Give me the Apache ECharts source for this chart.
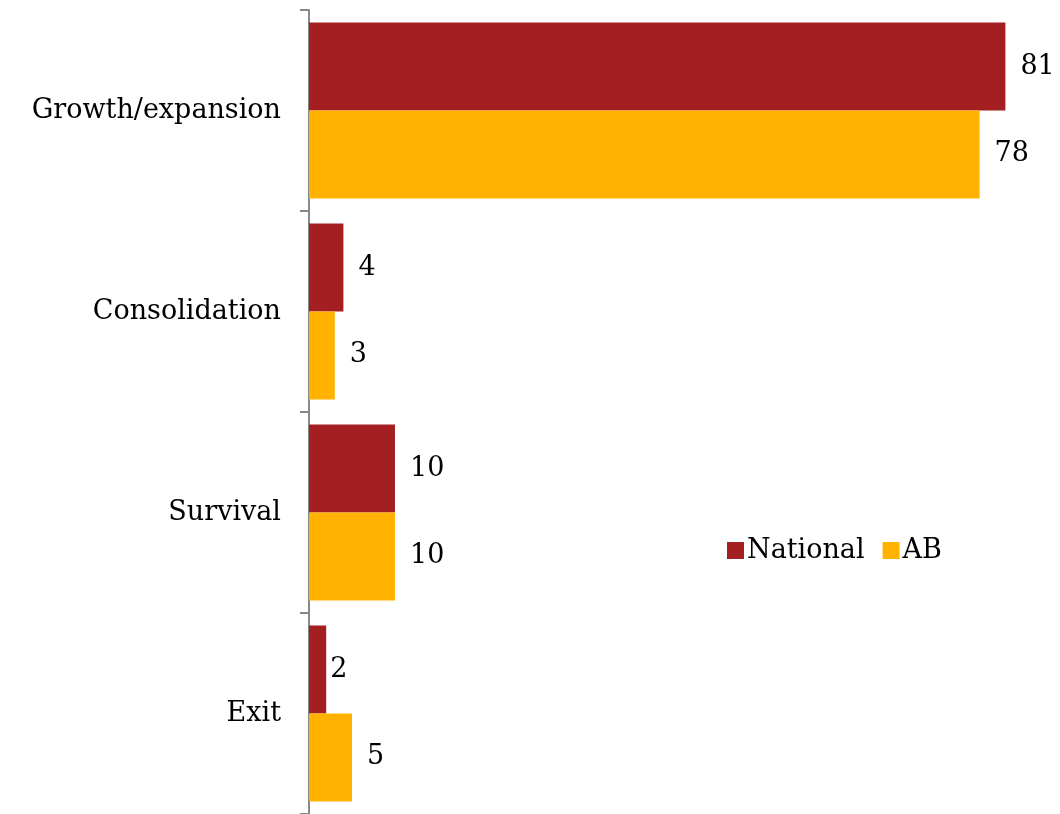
<!DOCTYPE html>
<html>
<head>
<meta charset="utf-8">
<script src="https://cdn.jsdelivr.net/npm/echarts@6/dist/echarts.min.js"></script>
<style>
  html, body { margin: 0; padding: 0; background: #fff; }
  #chart { width: 1060px; height: 814px; }
</style>
</head>
<body>
<div id="chart"></div>
<script>
// 分类与数据
const categories = ['Growth/expansion', 'Consolidation', 'Survival', 'Exit'];
const seriesNames = ['National', 'AB'];
const nationalValues = [81, 4, 10, 2];
const abValues = [78, 3, 10, 5];

const FONT = 'DejaVu Serif';
const chart = echarts.init(document.getElementById('chart'));

const labelStyle = {
  show: true,
  position: 'right',
  distance: 15,
  color: '#000',
  fontFamily: FONT,
  fontSize: 27
};

// 数值标签：Exit 的 National 标签贴近柱子（与原图一致）
const nationalData = nationalValues.map((v, i) =>
  i === 3 ? { value: v, label: { distance: 4 } } : v
);

const option = {
  backgroundColor: '#fff',
  animation: false,
  legend: {
    data: seriesNames,
    left: 722,
    top: 532,
    itemWidth: 17,
    itemHeight: 17,
    itemGap: 18,
    icon: 'rect',
    textStyle: { color: '#000', fontFamily: FONT, fontSize: 27, padding: [0, 0, 0, -2] }
  },
  grid: {
    left: 309,
    right: 3,
    top: 10,
    bottom: 0,
    containLabel: false
  },
  xAxis: {
    type: 'value',
    min: 0,
    max: 87,
    show: false
  },
  yAxis: {
    type: 'category',
    data: categories,
    inverse: true,
    axisLine: { show: true, lineStyle: { color: '#888', width: 2 } },
    axisTick: { show: true, length: 9, lineStyle: { color: '#888', width: 2 } },
    axisLabel: { color: '#000', fontFamily: FONT, fontSize: 27, margin: 28 },
    splitLine: { show: false }
  },
  series: [
    {
      name: seriesNames[0],
      type: 'bar',
      data: nationalData,
      barGap: '0%',
      barCategoryGap: '12.5%',
      itemStyle: { color: '#A31F22' },
      label: labelStyle
    },
    {
      name: seriesNames[1],
      type: 'bar',
      data: abValues,
      barGap: '0%',
      barCategoryGap: '12.5%',
      itemStyle: { color: '#FFB300' },
      label: labelStyle
    }
  ]
};

chart.setOption(option);
</script>
</body>
</html>
